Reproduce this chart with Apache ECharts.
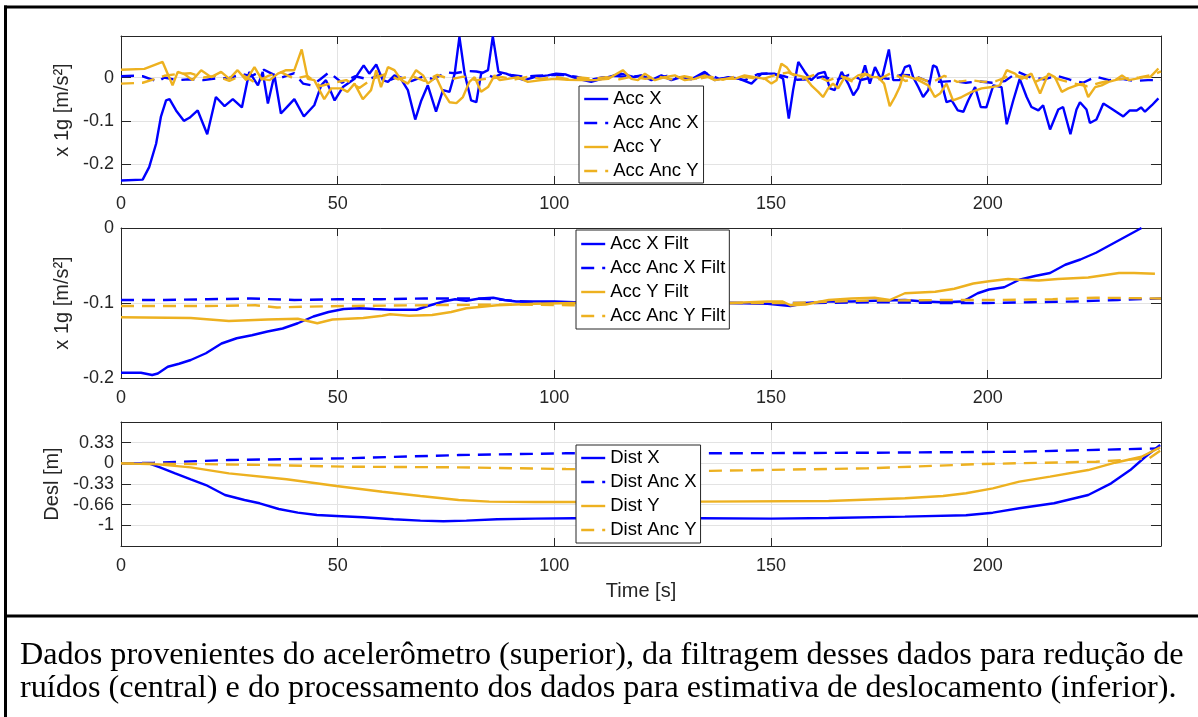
<!DOCTYPE html>
<html>
<head>
<meta charset="utf-8">
<script src="https://cdn.jsdelivr.net/npm/echarts@6/dist/echarts.min.js"></script>
<style>
html,body{margin:0;padding:0;background:#fff;}
#chart{width:1198px;height:717px;}
</style>
</head>
<body>
<div id="chart"></div>
<script>
// ---------- DATA ----------
const xTicks = [0, 50, 100, 150, 200];
const yTicksTop = [-0.2, -0.1, 0];

// Top panel (raw acceleration), [time s, value]
const accX = [[0,-0.238],[5,-0.236],[6.5,-0.207],[8.1,-0.153],[9.2,-0.091],[10.4,-0.053],[11.2,-0.05],[12.7,-0.076],[14.5,-0.1],[15.8,-0.093],[17.7,-0.076],[19.9,-0.131],[21.9,-0.045],[23.9,-0.066],[25.8,-0.05],[27.9,-0.069],[29.6,0.013],[31.6,-0.018],[32.7,0.013],[33.9,-0.06],[35.4,0.006],[36.9,-0.083],[38.5,-0.066],[40,-0.05],[42.2,-0.09],[44.6,-0.064],[46.2,-0.018],[47.3,-0.006],[49.3,-0.053],[51.2,-0.022],[53.9,-0.003],[56,0.028],[57.3,0.009],[58.9,0.03],[60.4,-0.006],[61.6,-0.01],[63.1,0.005],[64.6,-0.003],[66.2,-0.029],[67.9,-0.097],[69.3,-0.053],[70.8,-0.018],[72.7,-0.079],[74.3,-0.029],[75.8,-0.033],[77,0.009],[78.1,0.094],[79.3,0.009],[80.8,-0.053],[82,-0.057],[83.1,0.009],[84.7,0.017],[85.8,0.095],[87.1,0.013],[88.9,0.009],[90.8,0.001],[93.1,-0.006],[95.4,0.001],[98.5,0.005],[100.4,0.009],[102.7,0.007],[105.4,-0.003],[108.5,-0.01],[112.4,0.001],[115.4,0.009],[118.5,0.001],[120.1,0.005],[122.4,-0.006],[124.7,0.005],[127,-0.006],[129.3,0.001],[131.6,-0.004],[134.7,0.013],[137,-0.006],[140.1,0.001],[142.4,-0.002],[145.5,-0.014],[147.8,0.009],[150.8,0.009],[152.8,-0.003],[154.1,-0.095],[155.1,-0.029],[156.3,0.036],[157.8,0.013],[159.3,-0.006],[160.9,0.009],[162.4,0.013],[163.6,-0.025],[164.7,-0.029],[166.3,0.013],[167.8,-0.014],[169,-0.041],[170.1,-0.025],[171.7,0.028],[172.8,-0.014],[174,0.024],[175.5,-0.006],[177.2,0.065],[178.2,-0.006],[179.7,-0.006],[180.9,0.024],[182,0.028],[182.8,0.001],[184,-0.022],[185.1,-0.045],[186.3,-0.029],[187.4,0.028],[188.2,0.024],[189.4,-0.014],[190.5,-0.057],[191.7,-0.053],[193.1,-0.076],[194.4,-0.079],[195.5,-0.053],[197.1,-0.022],[198.4,-0.068],[199.7,-0.069],[201.3,-0.018],[203.2,-0.022],[204.4,-0.108],[205.9,-0.053],[207.4,-0.003],[209,-0.045],[210.1,-0.068],[211.7,-0.076],[212.8,-0.064],[214.4,-0.12],[216.3,-0.074],[217.4,-0.068],[219.1,-0.131],[220.5,-0.074],[221.3,-0.057],[222.8,-0.074],[223.6,-0.105],[225.1,-0.097],[226.7,-0.06],[228.6,-0.072],[231.3,-0.09],[232.8,-0.076],[234.4,-0.076],[235.4,-0.069],[236.3,-0.079],[237.9,-0.064],[239.4,-0.048]];
const accAncX = [[0,0.003],[3,0.004],[5,0.003],[7,-0.004],[8.5,-0.01],[10,0],[13,-0.006],[16,-0.004],[19,-0.006],[22,-0.002],[25,-0.001],[28,0.008],[30,0.003],[33,0.018],[35,0.008],[37,0],[40,0.01],[42,-0.014],[44,-0.018],[46,-0.004],[48,0.012],[51,-0.012],[54,0.003],[57,-0.004],[60,0.006],[62,-0.006],[64,0.002],[67,-0.008],[70,0.003],[72,-0.004],[75,0.012],[77,0.01],[80,0.015],[82,0.014],[84,0.01],[86,0],[88,0.01],[90,0.006],[93,0.002],[96,0.004],[99,0.006],[102,0.006],[105,0.002],[108,-0.006],[111,0],[114,0.004],[117,0.001],[120,0.004],[123,-0.004],[126,0.004],[129,0],[132,-0.005],[135,0.01],[138,-0.003],[141,0],[144,-0.006],[147,0.008],[150,0.01],[153,0.003],[156,-0.005],[159,-0.004],[162,0.002],[165,-0.006],[168,0.006],[171,-0.005],[174,0.002],[177,-0.003],[180,0.006],[183,0.005],[186,-0.008],[189,-0.01],[192,-0.008],[195,-0.012],[198,-0.009],[201,-0.012],[204,-0.008],[207,0.013],[210,0],[213,-0.004],[216,0.004],[219,-0.005],[222,-0.012],[225,0.002],[228,-0.006],[231,-0.003],[234,-0.008],[237,-0.006],[240,-0.006]];
const accY = [[0,0.018],[5.4,0.02],[9.6,0.036],[11.9,-0.018],[13.1,0.013],[14.6,0.008],[16.5,-0.006],[18.5,0.017],[20.8,0.001],[23.1,0.013],[25,-0.003],[26.9,0.017],[28.9,-0.006],[30.8,0.024],[32.4,-0.003],[34.3,-0.006],[36.2,0.009],[38.1,0.017],[40,0.017],[41.7,0.065],[43.1,-0.003],[44.6,-0.006],[46.9,-0.05],[48.5,-0.025],[50.8,-0.025],[52.3,-0.033],[53.9,-0.014],[55.8,-0.05],[57.7,-0.029],[58.9,0.017],[60,-0.022],[61.6,0.024],[63.1,0.017],[64.7,-0.006],[66.2,-0.014],[68.1,0.017],[69.7,0.005],[70.8,-0.014],[72.7,0.001],[74.3,-0.033],[75.8,-0.057],[77.4,-0.059],[78.9,-0.045],[80.4,-0.01],[81.6,0.001],[83.1,-0.033],[84.7,-0.022],[86.2,0.005],[87.4,-0.006],[89.3,-0.003],[91.6,0.001],[93.9,-0.01],[97,-0.006],[100,-0.003],[103.1,-0.005],[106.2,-0.006],[109.3,-0.006],[112.4,-0.003],[115.8,0.017],[117.8,-0.003],[119.3,-0.006],[120.9,0.009],[123.2,-0.006],[125.5,0.001],[127.8,0.005],[130.1,-0.006],[132.4,-0.003],[134.7,0.005],[137,-0.006],[139.3,-0.003],[141.6,-0.003],[143.9,0.005],[146.2,0.001],[148.6,-0.003],[150.1,-0.014],[151.3,-0.006],[152.4,0.032],[153.6,0.024],[154.7,0.009],[156.2,0.005],[157.8,0.001],[159.3,-0.018],[160.9,-0.033],[162,-0.045],[163.2,-0.025],[164.3,-0.014],[165.5,-0.025],[167,0.001],[168.6,-0.006],[170.1,0.005],[171.7,0.009],[173.2,0.001],[174.7,0.001],[176.1,-0.014],[177.4,-0.066],[178.6,-0.045],[179.7,-0.022],[180.5,0.005],[182,0.001],[184,-0.006],[186.3,-0.018],[187.8,-0.045],[189,-0.037],[190.5,-0.014],[192,-0.053],[194,-0.045],[196.3,-0.033],[198.6,-0.025],[201,-0.022],[202.8,-0.018],[204.4,0.017],[206.3,0.009],[207.8,-0.003],[210.1,0.009],[212.1,-0.037],[214,0.009],[215.5,0.001],[217.1,-0.033],[218.6,-0.025],[220.5,-0.018],[222.1,-0.014],[223.2,-0.045],[224.8,-0.022],[226.3,-0.018],[227.9,-0.01],[229.4,-0.006],[231,0.005],[232.5,-0.006],[234.1,-0.003],[236,0.001],[237.5,0.001],[239.4,0.021]];
const accAncY = [[0,-0.014],[3,-0.013],[5,-0.012],[8,-0.003],[10,0.004],[13,0.008],[16,0.01],[19,0],[22,0.004],[25,-0.008],[28,0.006],[31,-0.012],[34,0.004],[37,0.012],[40,-0.003],[43,0.004],[46,-0.02],[49,-0.012],[52,-0.006],[55,-0.024],[58,-0.003],[61,0.008],[64,-0.004],[67,0.004],[70,-0.008],[73,0.006],[76,-0.004],[79,0.002],[82,-0.006],[85,-0.002],[88,0.001],[91,-0.004],[94,0.002],[97,-0.003],[100,0.002],[103,-0.004],[106,0],[109,-0.003],[112,0.001],[115,-0.004],[118,0.002],[121,-0.003],[124,0.002],[127,-0.004],[130,0.003],[133,-0.003],[136,0.002],[139,-0.005],[142,0.003],[145,0],[148,-0.004],[151,0.006],[154,0.012],[157,-0.004],[160,0.006],[163,-0.008],[166,0.004],[169,-0.01],[172,0.008],[175,-0.004],[178,0.012],[181,-0.008],[184,0],[187,-0.012],[190,0.004],[193,-0.01],[196,-0.006],[199,-0.01],[202,-0.008],[205,0.004],[208,0.002],[211,-0.01],[214,0.004],[217,-0.006],[220,-0.014],[223,-0.02],[226,-0.012],[229,-0.006],[232,-0.002],[235,0],[238,0.006],[240,0.014]];

// Middle panel (filtered acceleration)
const accXFilt = [[0,-0.193],[4.6,-0.193],[7.2,-0.196],[8.5,-0.194],[10.8,-0.185],[13.4,-0.181],[16.1,-0.176],[19.6,-0.167],[23.2,-0.154],[26.7,-0.147],[30.2,-0.143],[33.8,-0.138],[37.3,-0.134],[40.8,-0.127],[44.4,-0.118],[47.9,-0.112],[51.4,-0.108],[55,-0.107],[58.5,-0.108],[62.1,-0.109],[65.6,-0.109],[68.2,-0.109],[70.8,-0.104],[74.4,-0.098],[77.1,-0.095],[79.7,-0.097],[82.8,-0.094],[85.9,-0.093],[88.5,-0.096],[91.2,-0.098],[95.6,-0.098],[100,-0.098],[104.5,-0.099],[120,-0.099],[140.9,-0.1],[149.2,-0.101],[154.5,-0.104],[158,-0.1],[163.3,-0.098],[168.6,-0.098],[173.9,-0.097],[180.9,-0.096],[185.3,-0.098],[189.7,-0.099],[194.1,-0.098],[195.5,-0.094],[197.7,-0.087],[200.3,-0.082],[203.8,-0.079],[207.3,-0.069],[210.9,-0.064],[214.4,-0.06],[217.9,-0.049],[221.4,-0.042],[225,-0.033],[228.5,-0.022],[232,-0.011],[235.5,0]];
const accAncXFilt = [[0,-0.096],[10,-0.096],[20,-0.095],[30,-0.094],[40,-0.096],[50,-0.095],[60,-0.095],[70,-0.094],[80,-0.094],[86,-0.095],[95,-0.099],[110,-0.1],[130,-0.1],[150,-0.1],[160,-0.1],[175,-0.099],[190,-0.1],[200,-0.1],[210,-0.099],[220,-0.098],[230,-0.096],[240,-0.094]];
const accYFilt = [[0,-0.119],[16.1,-0.12],[24.9,-0.124],[33.8,-0.122],[40.8,-0.121],[45.3,-0.127],[48.8,-0.122],[55.9,-0.12],[60.3,-0.117],[62.1,-0.115],[66.5,-0.117],[71.8,-0.116],[76.2,-0.112],[79.7,-0.107],[83.3,-0.105],[86.8,-0.103],[91.2,-0.102],[95.6,-0.101],[104.5,-0.1],[120,-0.1],[140.9,-0.1],[149.2,-0.098],[152.7,-0.098],[154.5,-0.103],[158,-0.102],[163.3,-0.096],[168.6,-0.094],[173.9,-0.093],[177.4,-0.096],[180.9,-0.087],[187.9,-0.085],[192.3,-0.081],[196.7,-0.074],[200.3,-0.071],[204.7,-0.068],[207.3,-0.069],[211.8,-0.07],[216.2,-0.068],[223.2,-0.066],[230.3,-0.06],[233.8,-0.06],[238.6,-0.061]];
const accAncYFilt = [[0,-0.104],[20,-0.104],[31,-0.103],[36,-0.106],[42,-0.105],[52,-0.104],[70,-0.103],[90,-0.102],[104,-0.103],[120,-0.101],[140,-0.1],[155,-0.1],[170,-0.097],[190,-0.096],[200,-0.096],[215,-0.095],[225,-0.093],[240,-0.094]];

// Bottom panel (displacement)
const distX = [[0,0],[6.4,0],[9,-0.064],[12.5,-0.16],[16.1,-0.255],[19.6,-0.346],[24,-0.506],[28.5,-0.585],[32,-0.638],[36.4,-0.729],[40.8,-0.788],[45.2,-0.825],[49.7,-0.84],[55.9,-0.861],[62.9,-0.893],[69.1,-0.915],[74.4,-0.925],[79.7,-0.915],[86.8,-0.893],[95.6,-0.883],[104.5,-0.877],[120,-0.877],[133.8,-0.877],[150.1,-0.883],[163.3,-0.872],[180.9,-0.851],[195,-0.829],[201.2,-0.788],[207.3,-0.718],[215.3,-0.638],[223.2,-0.506],[228.5,-0.319],[232.9,-0.107],[236.4,0.105],[239.8,0.292]];
const distAncX = [[0,0],[7.6,0.01],[24.9,0.053],[51.4,0.08],[77.9,0.132],[102.7,0.16],[136,0.16],[172.1,0.169],[207.3,0.185],[239.6,0.239]];
const distY = [[0,0],[8.6,-0.016],[16.1,-0.064],[24.9,-0.16],[38.2,-0.255],[49.7,-0.362],[60.3,-0.453],[69.1,-0.521],[77.9,-0.585],[85,-0.612],[95.6,-0.617],[104.5,-0.617],[133.8,-0.612],[163.3,-0.601],[180.9,-0.558],[189.7,-0.521],[195,-0.478],[201.2,-0.399],[207.3,-0.293],[214.4,-0.213],[223.2,-0.107],[229.4,0.01],[235.5,0.105],[239.8,0.255]];
const distAncY = [[0,0],[16,-0.01],[33.8,-0.027],[51.4,-0.053],[77.9,-0.064],[102.7,-0.091],[136,-0.12],[172.1,-0.08],[198.5,-0.011],[225,0.026],[237.3,0.08],[239.8,0.2]];

const captionLines = [
  'Dados provenientes do acelerômetro (superior), da filtragem desses dados para redução de',
  'ruídos (central) e do processamento dos dados para estimativa de deslocamento (inferior).'
];

// ---------- STYLE ----------
const BLUE = '#0000ff', ORANGE = '#edb120';
const AX = '#262626', GRIDC = '#e3e3e3';
const FONT = '"Liberation Sans", Arial, Helvetica, sans-serif';
const LW = 2.4, DASH = [13, 8];

const grids = [
  {left: 121, top: 36, width: 1040, height: 148},
  {left: 121, top: 228, width: 1040, height: 150},
  {left: 121, top: 422, width: 1040, height: 124}
];

const yDefs = [
  {min: -0.246, max: 0.096, custom: yTicksTop, name: 'x 1g [m/s²]', gap: 29},
  {min: -0.2, max: 0, interval: 0.1, name: 'x 1g [m/s²]', gap: 31},
  {min: -1.32, max: 0.66, interval: 0.33, name: 'Desl [m]', gap: 49}
];

function fmtY(v) {
  const r = Math.round(v * 100) / 100;
  if (Math.abs(r - 0.66) < 1e-6 || Math.abs(r + 1.32) < 1e-6) return '';
  if (Math.abs(r + 0.99) < 1e-6) return '-1';
  if (Math.abs(r) < 1e-9) return '0';
  return String(r);
}

const xAxes = [], yAxes = [];
grids.forEach((g, i) => {
  xAxes.push({
    type: 'value', gridIndex: i, position: 'bottom', min: 0, max: 240, interval: 50,
    axisLine: {show: true, onZero: false, lineStyle: {color: AX, width: 1}},
    axisTick: {show: true, inside: true, length: 8, lineStyle: {color: AX}},
    axisLabel: {show: true, margin: 11, color: AX, fontSize: 18, fontFamily: FONT,
      formatter: v => (xTicks.indexOf(v) >= 0 ? String(v) : '')},
    splitLine: {show: true, lineStyle: {color: GRIDC, width: 1}},
    name: i === 2 ? 'Time [s]' : '', nameLocation: 'middle', nameGap: 35,
    nameTextStyle: {color: AX, fontSize: 20, fontFamily: FONT}
  });
  xAxes.push({
    type: 'value', gridIndex: i, position: 'top', min: 0, max: 240, interval: 50,
    axisLine: {show: true, onZero: false, lineStyle: {color: AX, width: 1}},
    axisTick: {show: true, inside: true, length: 8, lineStyle: {color: AX}},
    axisLabel: {show: false}, splitLine: {show: false}
  });
  const d = yDefs[i];
  const base = {type: 'value', gridIndex: i, min: d.min, max: d.max};
  if (d.interval) base.interval = d.interval;
  const tick = {show: true, inside: true, length: 10, lineStyle: {color: AX}};
  if (d.custom) tick.customValues = d.custom;
  const lab = {show: true, margin: 7, color: AX, fontSize: 18, fontFamily: FONT, formatter: fmtY};
  if (d.custom) lab.customValues = d.custom;
  yAxes.push(Object.assign({}, base, {
    position: 'left',
    axisLine: {show: true, onZero: false, lineStyle: {color: AX, width: 1}},
    axisTick: tick, axisLabel: lab,
    splitLine: {show: true, lineStyle: {color: GRIDC, width: 1}},
    name: d.name, nameLocation: 'middle', nameGap: d.gap, nameRotate: 90,
    nameTextStyle: {color: AX, fontSize: 20, fontFamily: FONT}
  }));
  yAxes.push(Object.assign({}, base, {
    position: 'right',
    axisLine: {show: true, onZero: false, lineStyle: {color: AX, width: 1}},
    axisTick: Object.assign({}, tick), axisLabel: {show: false}, splitLine: {show: false}
  }));
});

function line(name, data, color, dashed, gi) {
  return {
    name, type: 'line', data, xAxisIndex: gi * 2, yAxisIndex: gi * 2,
    symbol: 'none', showSymbol: false, smooth: false, animation: false, silent: true, clip: true,
    lineStyle: {color, width: LW, type: dashed ? DASH : 'solid'},
    itemStyle: {color}
  };
}

const series = [
  line('Acc X', accX, BLUE, false, 0),
  line('Acc Anc X', accAncX, BLUE, true, 0),
  line('Acc Y', accY, ORANGE, false, 0),
  line('Acc Anc Y', accAncY, ORANGE, true, 0),
  line('Acc X Filt', accXFilt, BLUE, false, 1),
  line('Acc Anc X Filt', accAncXFilt, BLUE, true, 1),
  line('Acc Y Filt', accYFilt, ORANGE, false, 1),
  line('Acc Anc Y Filt', accAncYFilt, ORANGE, true, 1),
  line('Dist X', distX, BLUE, false, 2),
  line('Dist Anc X', distAncX, BLUE, true, 2),
  line('Dist Y', distY, ORANGE, false, 2),
  line('Dist Anc Y', distAncY, ORANGE, true, 2)
];

function legend(names, left, top, padding) {
  return {
    data: names, orient: 'vertical', left, top, padding,
    itemWidth: 24, itemHeight: 8, itemGap: 0,
    itemStyle: {opacity: 0, borderWidth: 0},
    lineStyle: {width: 2.4},
    backgroundColor: '#fff', borderColor: AX, borderWidth: 1, borderRadius: 0,
    selectedMode: false,
    textStyle: {color: '#000', fontSize: 18.5, fontFamily: FONT, lineHeight: 24}
  };
}

const option = {
  backgroundColor: '#fff',
  animation: false,
  grid: grids,
  xAxis: xAxes,
  yAxis: yAxes,
  legend: [
    legend(['Acc X', 'Acc Anc X', 'Acc Y', 'Acc Anc Y'], 579, 86, [1, 5, 0, 4]),
    legend(['Acc X Filt', 'Acc Anc X Filt', 'Acc Y Filt', 'Acc Anc Y Filt'], 576, 230, [2, 4, 1, 4]),
    legend(['Dist X', 'Dist Anc X', 'Dist Y', 'Dist Anc Y'], 576, 445, [1, 4, 1, 4])
  ],
  series,
  graphic: [
    {type: 'line', shape: {x1: 4, y1: 7, x2: 1198, y2: 7}, style: {stroke: '#000', lineWidth: 3}},
    {type: 'line', shape: {x1: 5.5, y1: 5.5, x2: 5.5, y2: 717}, style: {stroke: '#000', lineWidth: 3}},
    {type: 'line', shape: {x1: 4, y1: 616, x2: 1198, y2: 616}, style: {stroke: '#000', lineWidth: 3}},
    {type: 'text', x: 20, y: 656, style: {text: captionLines[0], font: '32.2px "Liberation Serif", "Times New Roman", serif', fill: '#000', textVerticalAlign: 'middle'}},
    {type: 'text', x: 20, y: 689, style: {text: captionLines[1], font: '32.2px "Liberation Serif", "Times New Roman", serif', fill: '#000', textVerticalAlign: 'middle'}}
  ]
};

const chart = echarts.init(document.getElementById('chart'), null, {renderer: 'canvas', width: 1198, height: 717});
chart.setOption(option);
</script>
</body>
</html>
